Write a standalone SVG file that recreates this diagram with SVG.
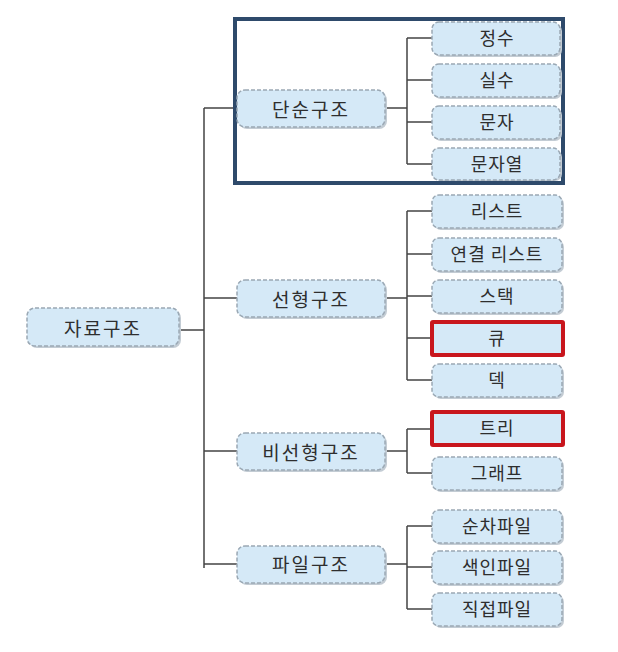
<svg xmlns="http://www.w3.org/2000/svg" width="618" height="652" viewBox="0 0 618 652">
<style>
.box{fill:#d5e9f7;stroke:#9aa8b4;stroke-width:1.5;stroke-dasharray:4 2}
.sh{fill:#c3ccd4}
.t{font-family:"Noto Sans CJK KR","Noto Sans",sans-serif;font-size:18px;fill:#2e2e2e;text-anchor:middle;dominant-baseline:central;letter-spacing:1px}
.t1{font-size:19px;letter-spacing:2px}
.ln{stroke:#444;stroke-width:1.5;fill:none}
.red{fill:none;stroke:#c8161d;stroke-width:4}
</style>
<rect width="618" height="652" fill="#fff"/>
<g id="connectors">
<path class="ln" d="M180 330H204M204 108V568M204 108H237M204 298H237M204 451H237M204 564H237"/>
<path class="ln" d="M385 108H407M407 38V164M407 38H432M407 80H432M407 122H432M407 164H432"/>
<path class="ln" d="M385 298H407M407 211V380M407 211H432M407 254H432M407 296H432M407 338H432M407 380H432"/>
<path class="ln" d="M385 451H407M407 429V473M407 429H432M407 473H432"/>
<path class="ln" d="M385 564H407M407 526V609M407 526H432M407 567H432M407 609H432"/>
</g>
<g id="frame"><rect x="235" y="19" width="328" height="164" fill="none" stroke="#2e4a6b" stroke-width="4"/></g>
<g id="root"><rect class="sh" x="29" y="310" width="152" height="38" rx="8"/><rect class="box" x="27" y="308" width="152" height="38" rx="8"/><text class="t t1" x="103" y="327">자료구조</text></g>
<g id="simple"><rect class="sh" x="239" y="92" width="148" height="37" rx="8"/><rect class="box" x="237" y="90" width="148" height="37" rx="8"/><text class="t t1" x="311" y="108">단순구조</text></g>
<g id="linear"><rect class="sh" x="239" y="282" width="148" height="37" rx="8"/><rect class="box" x="237" y="280" width="148" height="37" rx="8"/><text class="t t1" x="311" y="298">선형구조</text></g>
<g id="nonlinear"><rect class="sh" x="239" y="435" width="148" height="37" rx="8"/><rect class="box" x="237" y="433" width="148" height="37" rx="8"/><text class="t t1" x="311" y="451">비선형구조</text></g>
<g id="file"><rect class="sh" x="239" y="548" width="148" height="37" rx="8"/><rect class="box" x="237" y="546" width="148" height="37" rx="8"/><text class="t t1" x="311" y="563">파일구조</text></g>
<g id="n-int"><rect class="sh" x="434" y="24" width="128" height="33" rx="7"/><rect class="box" x="432" y="22" width="128" height="33" rx="7"/><text class="t" x="497" y="37">정수</text></g>
<g id="n-real"><rect class="sh" x="434" y="66" width="128" height="33" rx="7"/><rect class="box" x="432" y="64" width="128" height="33" rx="7"/><text class="t" x="497" y="79">실수</text></g>
<g id="n-char"><rect class="sh" x="434" y="108" width="128" height="33" rx="7"/><rect class="box" x="432" y="106" width="128" height="33" rx="7"/><text class="t" x="497" y="121">문자</text></g>
<g id="n-str"><rect class="sh" x="434" y="150" width="128" height="31" rx="7"/><rect class="box" x="432" y="148" width="128" height="32" rx="7"/><text class="t" x="497" y="163">문자열</text></g>
<g id="n-list"><rect class="sh" x="434" y="197" width="130" height="33" rx="7"/><rect class="box" x="432" y="195" width="130" height="33" rx="7"/><text class="t" x="497" y="210" letter-spacing="3">리스트</text></g>
<g id="n-llist"><rect class="sh" x="434" y="240" width="130" height="33" rx="7"/><rect class="box" x="432" y="238" width="130" height="33" rx="7"/><text class="t" x="497" y="253" letter-spacing="2">연결 리스트</text></g>
<g id="n-stack"><rect class="sh" x="434" y="282" width="130" height="33" rx="7"/><rect class="box" x="432" y="280" width="130" height="33" rx="7"/><text class="t" x="497" y="295">스택</text></g>
<g id="n-queue"><rect x="432" y="322" width="131" height="33" fill="#d5e9f7"/><rect class="red" x="432" y="322" width="131" height="33" rx="1"/><text class="t" x="497" y="337">큐</text></g>
<g id="n-deque"><rect class="sh" x="434" y="366" width="130" height="33" rx="7"/><rect class="box" x="432" y="364" width="130" height="33" rx="7"/><text class="t" x="497" y="379">덱</text></g>
<g id="n-tree"><rect x="432" y="412" width="131" height="33" fill="#d5e9f7"/><rect class="red" x="432" y="412" width="131" height="33" rx="1"/><text class="t" x="497" y="427" letter-spacing="3">트리</text></g>
<g id="n-graph"><rect class="sh" x="434" y="459" width="130" height="33" rx="7"/><rect class="box" x="432" y="457" width="130" height="33" rx="7"/><text class="t" x="497" y="472" letter-spacing="3">그래프</text></g>
<g id="n-seq"><rect class="sh" x="434" y="512" width="130" height="33" rx="7"/><rect class="box" x="432" y="510" width="130" height="33" rx="7"/><text class="t" x="497" y="525">순차파일</text></g>
<g id="n-idx"><rect class="sh" x="434" y="553" width="130" height="33" rx="7"/><rect class="box" x="432" y="551" width="130" height="33" rx="7"/><text class="t" x="497" y="566">색인파일</text></g>
<g id="n-dir"><rect class="sh" x="434" y="595" width="130" height="33" rx="7"/><rect class="box" x="432" y="593" width="130" height="33" rx="7"/><text class="t" x="497" y="608">직접파일</text></g>
</svg>
